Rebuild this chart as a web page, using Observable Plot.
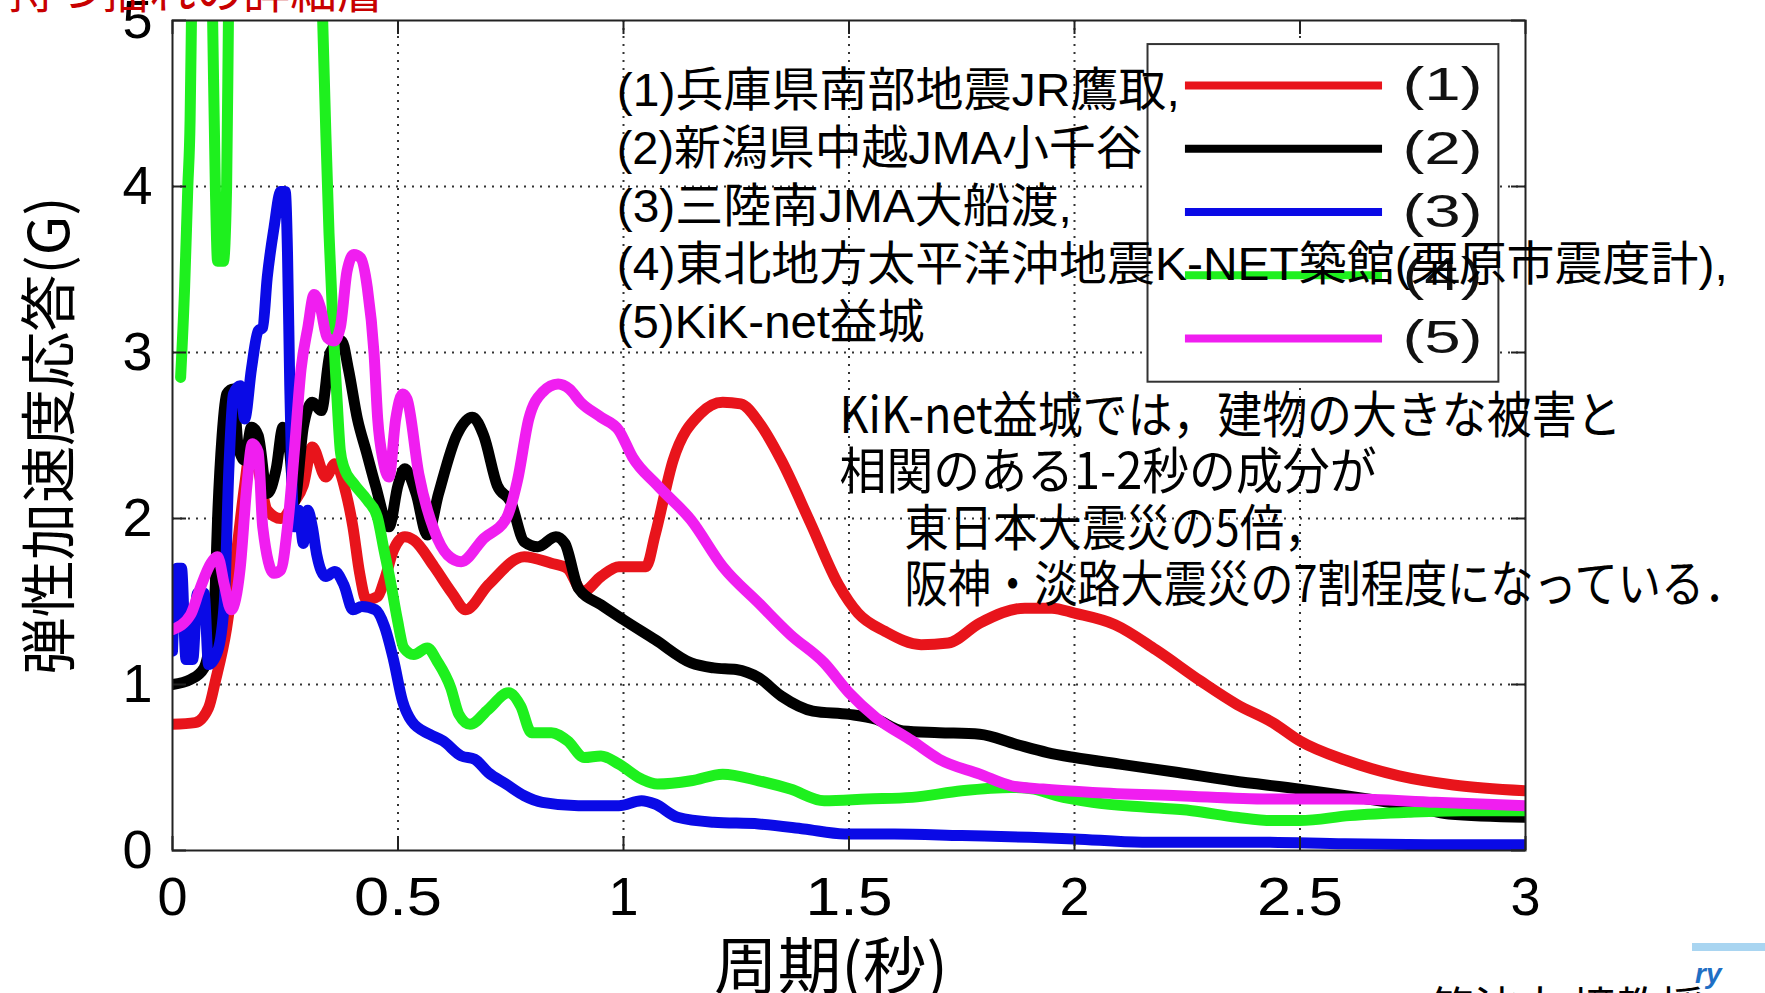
<!DOCTYPE html>
<html><head><meta charset="utf-8">
<script src="https://cdn.jsdelivr.net/npm/d3@7"></script>
<script src="https://cdn.jsdelivr.net/npm/@observablehq/plot@0.6"></script>
<style>
html,body{margin:0;padding:0;background:#fff;}
#wrap{position:relative;width:1765px;height:993px;overflow:hidden;background:#fff;}
#chart{position:absolute;left:0;top:0;}
.ov{position:absolute;white-space:nowrap;font-family:"Noto Sans CJK JP",sans-serif;line-height:1;}
</style></head><body>
<div id="wrap">
  <div id="chart"></div>
  <div class="ov" id="head" style="left:8px;top:-36px;font-size:47px;color:#c80000;">持つ揺れの詳細層</div>
  <div class="ov" id="credit" style="left:1430px;top:983px;font-size:44px;color:#000;">筑波大 境教授</div>
  <div class="ov" style="left:1692px;top:943px;width:73px;height:8px;background:#a9d5f1;"></div>
  <div class="ov" style="left:1695px;top:960px;font-size:28px;color:#1f6fc4;font-style:italic;font-weight:bold;font-family:'Liberation Sans',sans-serif;">ry</div>
</div>
<script>
// ---- data (period in s, elastic acceleration response in G) ----
const period1 = [0, 0.05, 0.08, 0.095, 0.12, 0.14, 0.16, 0.175, 0.19, 0.21, 0.24, 0.27, 0.29, 0.31, 0.34, 0.36, 0.385, 0.4, 0.415, 0.43, 0.455, 0.47, 0.49, 0.515, 0.535, 0.58, 0.62, 0.65, 0.7, 0.78, 0.84, 0.875, 0.91, 0.95, 0.99, 1.05, 1.07, 1.11, 1.17, 1.22, 1.26, 1.3, 1.35, 1.415, 1.477, 1.52, 1.58, 1.66, 1.72, 1.79, 1.89, 1.95, 2.0, 2.09, 2.18, 2.28, 2.36, 2.44, 2.5, 2.6, 2.72, 2.84, 3.0];
const accel1  = [0.76, 0.77, 0.86, 1.02, 1.34, 1.75, 2.2, 2.45, 2.3, 2.05, 2.0, 2.1, 2.2, 2.43, 2.25, 2.33, 2.15, 1.95, 1.67, 1.51, 1.53, 1.63, 1.81, 1.89, 1.87, 1.71, 1.55, 1.45, 1.6, 1.77, 1.73, 1.7, 1.56, 1.65, 1.71, 1.71, 1.9, 2.35, 2.63, 2.7, 2.69, 2.58, 2.35, 1.97, 1.6, 1.43, 1.32, 1.24, 1.25, 1.37, 1.46, 1.46, 1.43, 1.36, 1.21, 1.02, 0.88, 0.77, 0.66, 0.545, 0.45, 0.395, 0.36];

const period2 = [0, 0.04, 0.07, 0.085, 0.095, 0.1, 0.11, 0.12, 0.135, 0.145, 0.16, 0.175, 0.19, 0.21, 0.23, 0.245, 0.26, 0.27, 0.29, 0.31, 0.33, 0.35, 0.375, 0.39, 0.41, 0.43, 0.45, 0.48, 0.5, 0.515, 0.54, 0.565, 0.59, 0.63, 0.665, 0.69, 0.72, 0.75, 0.78, 0.81, 0.85, 0.87, 0.9, 0.95, 1.0, 1.07, 1.15, 1.2, 1.25, 1.3, 1.35, 1.42, 1.5, 1.56, 1.62, 1.7, 1.79, 1.87, 1.94, 2.0, 2.1, 2.23, 2.35, 2.5, 2.65, 2.76, 2.83, 3.0];
const accel2  = [1.0, 1.03, 1.1, 1.3, 1.6, 2.0, 2.5, 2.75, 2.78, 2.45, 2.35, 2.55, 2.5, 2.15, 2.3, 2.55, 2.4, 2.1, 2.55, 2.7, 2.65, 3.0, 3.07, 2.9, 2.6, 2.4, 2.2, 1.95, 2.2, 2.3, 2.15, 1.9, 2.15, 2.5, 2.61, 2.5, 2.2, 2.1, 1.86, 1.83, 1.89, 1.85, 1.58, 1.48, 1.39, 1.27, 1.13, 1.1, 1.09, 1.04, 0.93, 0.84, 0.82, 0.79, 0.72, 0.71, 0.7, 0.64, 0.59, 0.56, 0.52, 0.47, 0.42, 0.37, 0.31, 0.26, 0.22, 0.2];

const period3 = [0, 0.01, 0.02, 0.03, 0.045, 0.055, 0.07, 0.08, 0.1, 0.115, 0.125, 0.135, 0.15, 0.16, 0.175, 0.19, 0.2, 0.21, 0.225, 0.24, 0.25, 0.255, 0.26, 0.265, 0.27, 0.28, 0.29, 0.3, 0.31, 0.32, 0.34, 0.36, 0.38, 0.4, 0.42, 0.45, 0.47, 0.49, 0.51, 0.53, 0.57, 0.6, 0.64, 0.67, 0.7, 0.74, 0.78, 0.82, 0.9, 0.99, 1.04, 1.07, 1.12, 1.2, 1.3, 1.4, 1.49, 1.6, 1.75, 1.9, 2.0, 2.15, 2.4, 2.6, 2.8, 3.0];
const accel3  = [1.2, 1.7, 1.7, 1.15, 1.15, 1.55, 1.55, 1.12, 1.2, 1.5, 2.3, 2.75, 2.8, 2.6, 2.9, 3.13, 3.15, 3.45, 3.75, 3.97, 3.97, 3.6, 2.8, 2.2, 1.95, 2.05, 1.85, 2.05, 1.95, 1.78, 1.65, 1.68, 1.6, 1.45, 1.47, 1.45, 1.35, 1.15, 0.9, 0.78, 0.7, 0.66, 0.57, 0.55, 0.47, 0.4, 0.33, 0.29, 0.27, 0.27, 0.3, 0.28, 0.2, 0.17, 0.16, 0.13, 0.1, 0.1, 0.09, 0.08, 0.07, 0.05, 0.05, 0.04, 0.035, 0.035];

const period4 = [0.018, 0.027, 0.034, 0.039, 0.042, 0.05, 0.08, 0.089, 0.095, 0.1, 0.113, 0.12, 0.124, 0.13, 0.32, 0.333, 0.34, 0.347, 0.356, 0.365, 0.372, 0.38, 0.402, 0.432, 0.454, 0.469, 0.484, 0.498, 0.513, 0.535, 0.565, 0.587, 0.617, 0.635, 0.66, 0.7, 0.745, 0.772, 0.796, 0.84, 0.876, 0.913, 0.95, 0.99, 1.04, 1.075, 1.15, 1.22, 1.3, 1.37, 1.445, 1.54, 1.64, 1.75, 1.86, 1.91, 1.96, 2.04, 2.16, 2.26, 2.36, 2.44, 2.5, 2.61, 2.74, 2.86, 3.0];
const accel4  = [2.85, 3.4, 4.0, 4.4, 5.0, 6.5, 6.5, 5.0, 4.0, 3.55, 3.55, 4.0, 5.0, 6.5, 6.5, 5.0, 4.32, 3.72, 3.15, 2.71, 2.41, 2.31, 2.21, 2.11, 2.01, 1.81, 1.61, 1.4, 1.22, 1.18, 1.22, 1.14, 0.98, 0.82, 0.76, 0.85, 0.95, 0.87, 0.71, 0.71, 0.66, 0.56, 0.57, 0.52, 0.43, 0.4, 0.42, 0.46, 0.42, 0.37, 0.3, 0.31, 0.32, 0.36, 0.38, 0.37, 0.33, 0.29, 0.26, 0.24, 0.2, 0.18, 0.18, 0.21, 0.23, 0.24, 0.24];

const period5 = [0, 0.04, 0.06, 0.085, 0.1, 0.115, 0.13, 0.15, 0.165, 0.177, 0.19, 0.2, 0.225, 0.24, 0.255, 0.27, 0.285, 0.3, 0.314, 0.328, 0.343, 0.358, 0.372, 0.387, 0.402, 0.417, 0.432, 0.447, 0.455, 0.467, 0.48, 0.495, 0.51, 0.52, 0.546, 0.58, 0.61, 0.64, 0.69, 0.74, 0.765, 0.79, 0.82, 0.855, 0.88, 0.905, 0.95, 0.99, 1.02, 1.075, 1.15, 1.22, 1.3, 1.37, 1.445, 1.5, 1.56, 1.64, 1.7, 1.79, 1.86, 1.93, 2.04, 2.23, 2.43, 2.61, 2.8, 3.0];
const accel5  = [1.33, 1.42, 1.57, 1.73, 1.77, 1.6, 1.45, 1.7, 2.2, 2.45, 2.4, 1.95, 1.67, 1.69, 1.95, 2.4, 2.9, 3.15, 3.35, 3.27, 3.09, 3.07, 3.15, 3.49, 3.59, 3.57, 3.39, 2.99, 2.6, 2.35, 2.25, 2.6, 2.75, 2.72, 2.27, 1.93, 1.78, 1.74, 1.88, 2.0, 2.23, 2.6, 2.76, 2.81, 2.78, 2.7, 2.61, 2.53, 2.37, 2.2, 1.99, 1.71, 1.49, 1.3, 1.13, 0.95, 0.8, 0.66, 0.55, 0.46, 0.39, 0.37, 0.35, 0.33, 0.31, 0.31, 0.29, 0.27];

const seriesLabels = ["(1)", "(2)", "(3)", "(4)", "(5)"];
const seriesColors = ["#e8141b", "#000000", "#0a0ae6", "#1ef01e", "#f01ef0"];
const xTicks = [0, 0.5, 1, 1.5, 2, 2.5, 3];
const yTicks = [0, 1, 2, 3, 4, 5];
const xGrid = [0.5, 1, 1.5, 2, 2.5];
const yGrid = [1, 2, 3, 4];
const noteLines = [
  "(1)兵庫県南部地震JR鷹取,",
  "(2)新潟県中越JMA小千谷",
  "(3)三陸南JMA大船渡,",
  "(4)東北地方太平洋沖地震K-NET築館(栗原市震度計),",
  "(5)KiK-net益城"
];
const commentLines = [
  "KiK-net益城では，建物の大きな被害と",
  "相関のある1-2秒の成分が",
  "東日本大震災の5倍，",
  "阪神・淡路大震災の7割程度になっている．"
];
const xTitle = "周期(秒)";
const yTitle = "弾性加速度応答(G)";

// ---- layout (pixels / data-space anchors) ----
const W = 1765, H = 993, mL = 172, mR = 240, mT = 20, mB = 143;
const frameW = W - mL - mR, frameH = H - mT - mB;
const tickLen = 14;
const noteX = 0.985, noteY0 = 4.573, noteStep = 0.349;
const commentX = [1.479, 1.479, 1.623, 1.623], commentY0 = 2.614, commentStep = 0.341;
const legendBox = {x1: 2.163, x2: 2.941, y1: 2.821, y2: 4.855};
const legendLineX = [2.246, 2.683], legendLabelX = 2.816, legendY0 = 4.608, legendStep = 0.381;
const textWidths = {
  "(1)兵庫県南部地震JR鷹取,": 563, "(2)新潟県中越JMA小千谷": 526, "(3)三陸南JMA大船渡,": 455,
  "(4)東北地方太平洋沖地震K-NET築館(栗原市震度計),": 1111, "(5)KiK-net益城": 308,
  "KiK-net益城では，建物の大きな被害と": 782, "相関のある1-2秒の成分が": 537,
  "東日本大震災の5倍，": 424, "阪神・淡路大震災の7割程度になっている．": 843,
  "周期(秒)": 234, "弾性加速度応答(G)": 478,
  "(1)": 80, "(2)": 80, "(3)": 80, "(4)": 80, "(5)": 80,
  "0.5": 88, "1.5": 87, "2.5": 86
};

const periods = [period1, period2, period3, period4, period5];
const accels = [accel1, accel2, accel3, accel4, accel5];
const latin = "'Liberation Sans','Noto Sans CJK JP',sans-serif";
const cjk = "'Noto Sans CJK JP',sans-serif";

const lineMarks = periods.map((px, i) =>
  Plot.line(px.map((p, j) => ({period: p, accel: accels[i][j]})), {
    x: "period", y: "accel", stroke: seriesColors[i], strokeWidth: 11, curve: "monotone-x",
    strokeLinejoin: "round", strokeLinecap: "round", clip: true
  })
);

const legendMarks = seriesLabels.flatMap((lab, i) => [
  Plot.ruleY([legendY0 - i * legendStep], {x1: legendLineX[0], x2: legendLineX[1], stroke: seriesColors[i], strokeWidth: 8}),
  Plot.text([lab], {x: legendLabelX, y: legendY0 - i * legendStep, text: d => d, fontSize: 46, fontFamily: latin, fill: "#111"})
]);

const chart = Plot.plot({
  width: W, height: H,
  marginLeft: mL, marginRight: mR, marginTop: mT, marginBottom: mB,
  x: {domain: [0, 3]},
  y: {domain: [0, 5]},
  style: {fontFamily: latin, fontSize: "54px", background: "white", color: "#000", overflow: "visible"},
  marks: [
    Plot.ruleX(xGrid, {stroke: "#333", strokeWidth: 2, strokeDasharray: "2,6"}),
    Plot.ruleY(yGrid, {stroke: "#333", strokeWidth: 2, strokeDasharray: "2,6"}),
    ...lineMarks,
    Plot.tickX(xTicks, {x: d => d, insetTop: frameH - tickLen, stroke: "#222", strokeWidth: 2}),
    Plot.tickX(xTicks, {x: d => d, insetBottom: frameH - tickLen, stroke: "#222", strokeWidth: 2}),
    Plot.tickY(yTicks, {y: d => d, insetRight: frameW - tickLen, stroke: "#222", strokeWidth: 2}),
    Plot.tickY(yTicks, {y: d => d, insetLeft: frameW - tickLen, stroke: "#222", strokeWidth: 2}),
    Plot.frame({stroke: "#222", strokeWidth: 2}),
    Plot.rect([null], {x1: legendBox.x1, x2: legendBox.x2, y1: legendBox.y1, y2: legendBox.y2, fill: "white", stroke: "#333", strokeWidth: 2}),
    ...legendMarks,
    Plot.text(noteLines, {x: noteX, y: (d, i) => noteY0 - i * noteStep, text: d => d, textAnchor: "start", fontSize: 47, fontFamily: latin, fill: "#000"}),
    Plot.text(commentLines, {x: (d, i) => commentX[i], y: (d, i) => commentY0 - i * commentStep, text: d => d, textAnchor: "start", fontSize: 50, fontFamily: cjk, fill: "#000"}),
    Plot.axisX({ticks: xTicks, tickSize: 0, tickPadding: 26, fontSize: 54, label: null, tickFormat: d => String(d)}),
    Plot.axisY({ticks: yTicks, tickSize: 0, tickPadding: 20, fontSize: 54, label: null, tickFormat: d => String(d)}),
    Plot.text([xTitle], {frameAnchor: "bottom", textAnchor: "middle", lineAnchor: "middle", dx: -18, dy: 119, text: d => d, fontSize: 62, fontFamily: cjk, fill: "#000"}),
    Plot.text([yTitle], {frameAnchor: "left", textAnchor: "middle", lineAnchor: "middle", dx: -121, rotate: -90, text: d => d, fontSize: 56, fontFamily: cjk, fill: "#000"})
  ]
});

chart.querySelectorAll("text").forEach(t => {
  const w = textWidths[t.textContent];
  if (w) { t.setAttribute("textLength", w); t.setAttribute("lengthAdjust", "spacingAndGlyphs"); }
});
document.getElementById("chart").appendChild(chart);
</script>
</body></html>
